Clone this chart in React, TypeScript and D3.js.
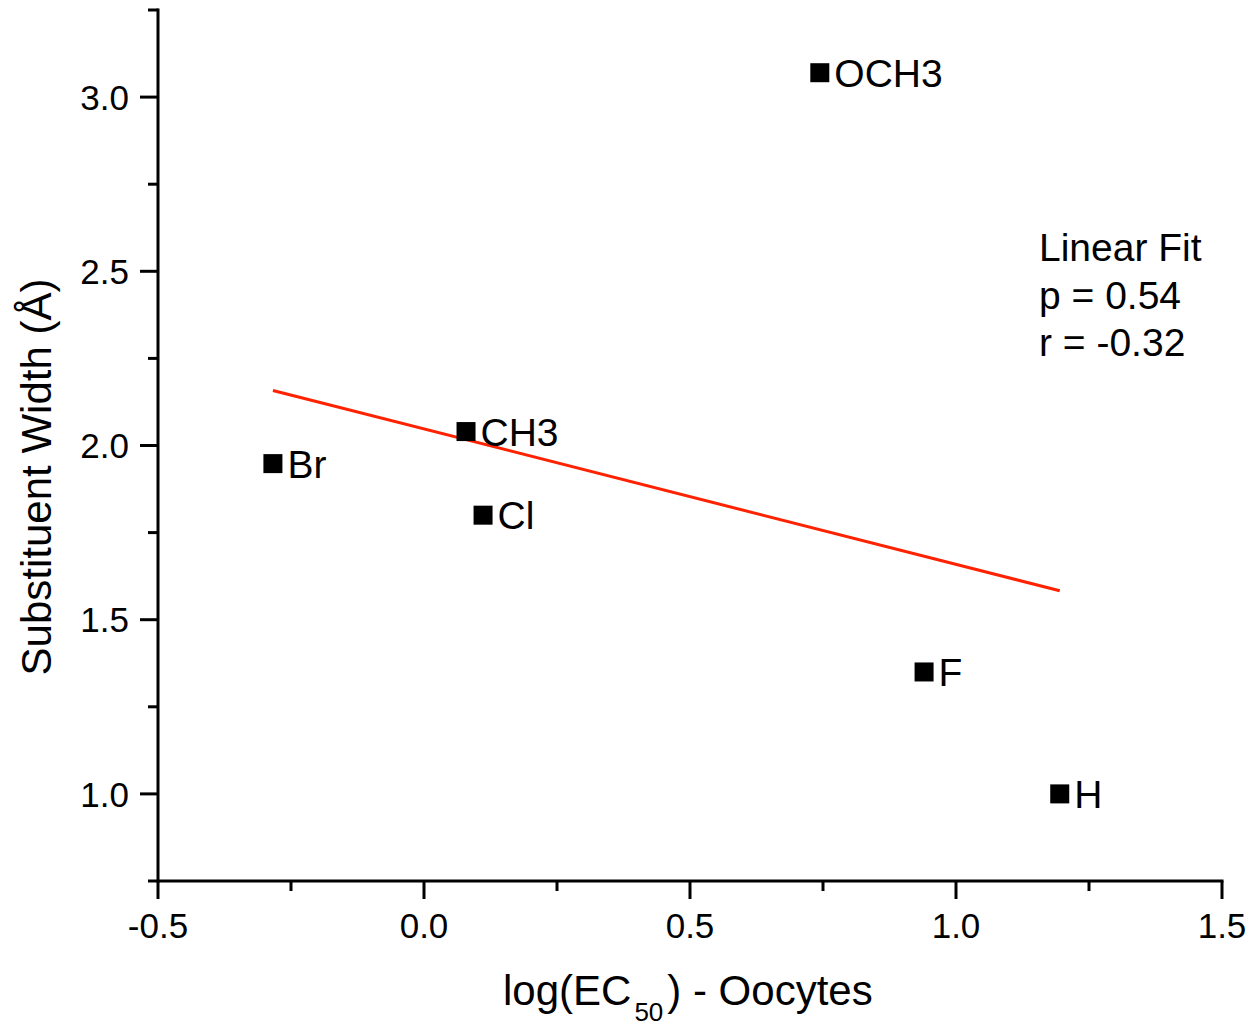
import React from "react";
import * as d3 from "d3";

const labels = ["Br", "CH3", "Cl", "OCH3", "F", "H"];
const xValues = [-0.284, 0.079, 0.111, 0.744, 0.94, 1.195];
const yValues = [1.948, 2.04, 1.80, 3.07, 1.35, 1.0];
const fitX = [-0.284, 1.195];
const fitY = [2.158, 1.583];
const xTicks = [-0.5, 0.0, 0.5, 1.0, 1.5];
const yTicks = [1.0, 1.5, 2.0, 2.5, 3.0];
const statLines = ["Linear Fit", "p = 0.54", "r = -0.32"];

export default function App() {
  const W = 1256, H = 1026;
  const left = 158, right = 1222, top = 10, bottom = 881;
  const x = d3.scaleLinear().domain([-0.5, 1.5]).range([left, right]);
  const y = d3.scaleLinear().domain([0.75, 3.25]).range([bottom, top]);
  const font = "Liberation Sans, Arial, sans-serif";
  const xMinor = d3.range(-0.25, 1.5, 0.5);
  const yMinor = d3.range(0.75, 3.3, 0.5);
  const line = d3.line<number>().x((d, i) => x(fitX[i])).y((d, i) => y(fitY[i]));
  const sq = 19;
  return (
    <svg width={W} height={H} style={{ position: "absolute", left: 0, top: 0, background: "#fff" }} fontFamily={font}>
      <rect width={W} height={H} fill="#fff" />
      {/* axes */}
      <line x1={left} x2={right + 1.5} y1={bottom} y2={bottom} stroke="#000" strokeWidth={3} />
      <line x1={left} x2={left} y1={top - 1.5} y2={bottom + 1.5} stroke="#000" strokeWidth={3} />
      {xTicks.map((t) => (
        <g key={"xt" + t}>
          <line x1={x(t)} x2={x(t)} y1={bottom} y2={bottom + 18} stroke="#000" strokeWidth={3} />
          <text x={x(t)} y={938} fontSize={35} textAnchor="middle">{t.toFixed(1)}</text>
        </g>
      ))}
      {xMinor.map((t) => (
        <line key={"xm" + t} x1={x(t)} x2={x(t)} y1={bottom} y2={bottom + 10} stroke="#000" strokeWidth={3} />
      ))}
      {yTicks.map((t) => (
        <g key={"yt" + t}>
          <line x1={left - 18} x2={left} y1={y(t)} y2={y(t)} stroke="#000" strokeWidth={3} />
          <text x={129} y={y(t)} dy="0.36em" fontSize={35} textAnchor="end">{t.toFixed(1)}</text>
        </g>
      ))}
      {yMinor.map((t) => (
        <line key={"ym" + t} x1={left - 10} x2={left} y1={y(t)} y2={y(t)} stroke="#000" strokeWidth={3} />
      ))}
      {/* fit line */}
      <path d={line(fitX) || ""} fill="none" stroke="#ff2200" strokeWidth={3} />
      {/* points */}
      {xValues.map((v, i) => (
        <g key={"p" + i}>
          <rect x={x(v) - sq / 2} y={y(yValues[i]) - sq / 2} width={sq} height={sq} fill="#000" />
          <text x={x(v) + sq / 2 + 5} y={y(yValues[i])} dy="0.36em" fontSize={39}>{labels[i]}</text>
        </g>
      ))}
      {/* stats */}
      {statLines.map((s, i) => (
        <text key={s} x={1039} y={261 + i * 47.5} fontSize={39}>{s}</text>
      ))}
      {/* axis titles */}
      <text x={503} y={1005} fontSize={42}>
        log(EC<tspan fontSize={26} dy={16} dx={3}>50</tspan><tspan dy={-16} dx={4}>) - Oocytes</tspan>
      </text>
      <text transform={`translate(51, 477) rotate(-90)`} fontSize={42} textAnchor="middle">Substituent Width (Å)</text>
    </svg>
  );
}
